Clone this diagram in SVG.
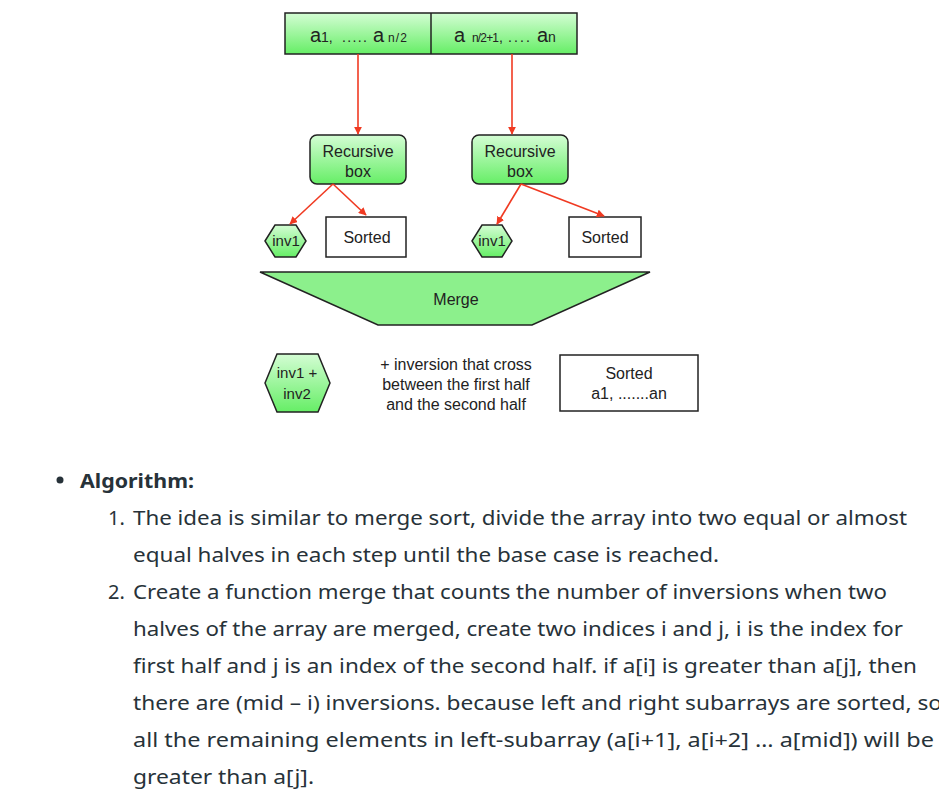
<svg xmlns="http://www.w3.org/2000/svg" width="939" height="797" viewBox="0 0 939 797">
<defs>
<linearGradient id="g" x1="0" y1="0" x2="0" y2="1">
<stop offset="0" stop-color="#d4fdd4"/>
<stop offset="1" stop-color="#66ee66"/>
</linearGradient>
<marker id="ah" viewBox="0 0 10 10" refX="9" refY="5" markerWidth="8" markerHeight="8" orient="auto" markerUnits="userSpaceOnUse">
<path d="M0,0 L10,5 L0,10 z" fill="#f03a22"/>
</marker>
<style>
.d{font-family:"Liberation Sans",Arial,sans-serif;fill:#222;}
.gf{fill:url(#g);stroke:#222;stroke-width:1.5;}
.wf{fill:#fff;stroke:#222;stroke-width:1.5;}
.c{stroke:#f03a22;stroke-width:1.6;fill:none;marker-end:url(#ah);}
.t{font-family:"Noto Sans","Open Sans",sans-serif;font-size:20px;fill:#273239;}
</style>
</defs>
<rect width="939" height="797" fill="#fff"/>

<g id="top-array">
<rect class="gf" x="285" y="13" width="292" height="41"/>
<line x1="431" y1="13" x2="431" y2="54" stroke="#222" stroke-width="1.5"/>
<text class="d" y="42"><tspan x="310" font-size="20">a</tspan><tspan x="321" font-size="14">1,</tspan><tspan x="342" font-size="14" textLength="25" lengthAdjust="spacing">.....</tspan><tspan x="373" font-size="20">a</tspan><tspan x="388" font-size="12" textLength="19">n/2</tspan></text>
<text class="d" y="42"><tspan x="454" font-size="20">a</tspan><tspan x="472" font-size="12" textLength="27">n/2+1</tspan><tspan x="499" font-size="14">,</tspan><tspan x="508" font-size="14" textLength="22" lengthAdjust="spacing">....</tspan><tspan x="537" font-size="20">a</tspan><tspan x="548" font-size="14">n</tspan></text>
</g>

<g id="rec-left">
<rect class="gf" x="310" y="135" width="96" height="49" rx="7"/>
<text class="d" font-size="16" text-anchor="middle" x="358" y="157">Recursive</text>
<text class="d" font-size="16" text-anchor="middle" x="358" y="177">box</text>
</g>
<g id="rec-right">
<rect class="gf" x="472" y="135" width="96" height="49" rx="7"/>
<text class="d" font-size="16" text-anchor="middle" x="520" y="157">Recursive</text>
<text class="d" font-size="16" text-anchor="middle" x="520" y="177">box</text>
</g>

<g id="inv1-left">
<polygon class="gf" points="265,241 275,225 296,225 306,241 296,257 275,257"/>
<text class="d" font-size="15" text-anchor="middle" x="286" y="246">inv1</text>
</g>
<g id="inv1-right">
<polygon class="gf" points="472,241 482,225 502,225 512,241 502,257 482,257"/>
<text class="d" font-size="15" text-anchor="middle" x="492" y="246">inv1</text>
</g>

<g id="sorted-left">
<rect class="wf" x="326" y="217" width="80" height="40"/>
<text class="d" font-size="16" text-anchor="middle" x="367" y="243">Sorted</text>
</g>
<g id="sorted-right">
<rect class="wf" x="569" y="217" width="72" height="40"/>
<text class="d" font-size="16" text-anchor="middle" x="605" y="243">Sorted</text>
</g>

<g id="merge">
<polygon points="260,272 650,272 532,325 378,325" fill="#8cf08c" stroke="#222" stroke-width="1.5"/>
<text class="d" font-size="16" text-anchor="middle" x="456" y="305">Merge</text>
</g>

<g id="inv-total">
<polygon class="gf" points="265,383 277,354 318,354 330,383 318,412 277,412"/>
<text class="d" font-size="15" text-anchor="middle" x="297" y="378">inv1 +</text>
<text class="d" font-size="15" text-anchor="middle" x="297" y="399">inv2</text>
</g>

<g id="cross-text">
<text class="d" font-size="16" text-anchor="middle" x="456" y="370">+ inversion that cross</text>
<text class="d" font-size="16" text-anchor="middle" x="456" y="390">between the first half</text>
<text class="d" font-size="16" text-anchor="middle" x="456" y="410">and the second half</text>
</g>

<g id="sorted-all">
<rect class="wf" x="560" y="355" width="138" height="56"/>
<text class="d" font-size="16" text-anchor="middle" x="629" y="379">Sorted</text>
<text class="d" font-size="16" text-anchor="middle" x="629" y="399">a1, .......an</text>
</g>

<g id="connectors">
<line class="c" x1="358" y1="54" x2="358" y2="134"/>
<line class="c" x1="512" y1="54" x2="512" y2="134"/>
<line class="c" x1="333" y1="184" x2="290" y2="224"/>
<line class="c" x1="333" y1="184" x2="366" y2="215"/>
<line class="c" x1="521" y1="184" x2="497" y2="224"/>
<line class="c" x1="521" y1="184" x2="604" y2="216"/>
</g>

<g id="algorithm-text">
<circle cx="60" cy="480" r="3.5" fill="#273239"/>
<text class="t" x="80" y="488" font-weight="bold" textLength="114" lengthAdjust="spacingAndGlyphs">Algorithm:</text>
<text class="t" x="108" y="525">1.</text>
<text class="t" x="133" y="525" textLength="774" lengthAdjust="spacingAndGlyphs">The idea is similar to merge sort, divide the array into two equal or almost</text>
<text class="t" x="133" y="562" textLength="586" lengthAdjust="spacingAndGlyphs">equal halves in each step until the base case is reached.</text>
<text class="t" x="108" y="599">2.</text>
<text class="t" x="133" y="599" textLength="754" lengthAdjust="spacingAndGlyphs">Create a function merge that counts the number of inversions when two</text>
<text class="t" x="133" y="636" textLength="770" lengthAdjust="spacingAndGlyphs">halves of the array are merged, create two indices i and j, i is the index for</text>
<text class="t" x="133" y="673" textLength="784" lengthAdjust="spacingAndGlyphs">first half and j is an index of the second half. if a[i] is greater than a[j], then</text>
<text class="t" x="133" y="710" textLength="809" lengthAdjust="spacingAndGlyphs">there are (mid – i) inversions. because left and right subarrays are sorted, so</text>
<text class="t" x="133" y="747" textLength="801" lengthAdjust="spacingAndGlyphs">all the remaining elements in left-subarray (a[i+1], a[i+2] … a[mid]) will be</text>
<text class="t" x="133" y="784" textLength="181" lengthAdjust="spacingAndGlyphs">greater than a[j].</text>
</g>
</svg>
